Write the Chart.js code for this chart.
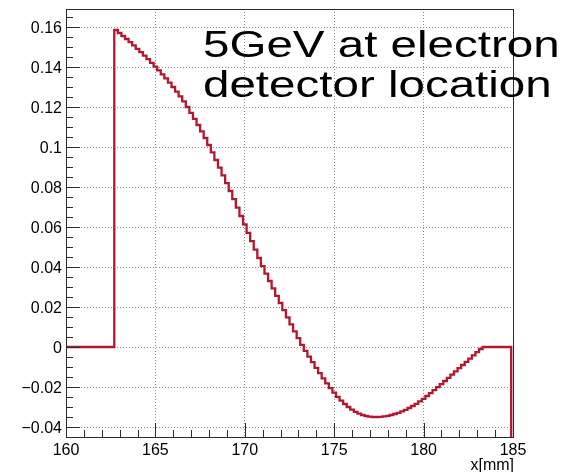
<!DOCTYPE html>
<html>
<head>
<meta charset="utf-8">
<script src="https://cdn.jsdelivr.net/npm/chart.js@4/dist/chart.umd.min.js"></script>
<style>
  html, body { margin: 0; padding: 0; background: #ffffff; }
  #wrap { width: 578px; height: 472px; }
</style>
</head>
<body>
<div id="wrap"><canvas id="c" width="578" height="472"></canvas></div>
<script>
// Histogram binning along x [mm]
const firstBinEdge = 160.1;
const binWidth = 0.2;

// Bin contents, one value per 0.2 mm bin, starting at 160.1 mm
const leadingEmptyBins = [0, 0, 0, 0, 0, 0, 0, 0, 0, 0, 0, 0, 0];
const signalBins = [
  0.1585, 0.1570, 0.1555, 0.1540, 0.1524, 0.1508, 0.1491, 0.1474, 0.1457, 0.1439,
  0.1421, 0.1402, 0.1383, 0.1363, 0.1343, 0.1322, 0.1300, 0.1277, 0.1253, 0.1228,
  0.1200, 0.1171, 0.1141, 0.1110, 0.1078, 0.1045, 0.1010, 0.0973, 0.0935, 0.0897,
  0.0858, 0.0819, 0.0780, 0.0739, 0.0697, 0.0655, 0.0613, 0.0571, 0.0529, 0.0487,
  0.0445, 0.0404, 0.0367, 0.0330, 0.0293, 0.0256, 0.0220, 0.0184, 0.0148, 0.0113,
  0.0078, 0.0044, 0.0011, -0.0019, -0.0048, -0.0076, -0.0104, -0.0131, -0.0157, -0.0182,
  -0.0206, -0.0228, -0.0249, -0.0268, -0.0285, -0.0300, -0.0313, -0.0324, -0.0333, -0.0340,
  -0.0345, -0.0348, -0.0350, -0.0350, -0.0349, -0.0347, -0.0344, -0.0340, -0.0335, -0.0329,
  -0.0322, -0.0314, -0.0305, -0.0295, -0.0284, -0.0272, -0.0259, -0.0245, -0.0231, -0.0216,
  -0.0201, -0.0186, -0.0170, -0.0154, -0.0138, -0.0122, -0.0106, -0.0090, -0.0074, -0.0058,
  -0.0042, -0.0026, -0.0010
];
const trailingEmptyBins = [0, 0, 0, 0, 0, 0, 0, 0];
const lastBin = [-0.06]; // falls below the displayed range

// Axis ticks and labels
const xTickValues = [160, 165, 170, 175, 180, 185];
const xTickLabels = ['160', '165', '170', '175', '180', '185'];
const yTickValues = [0.16, 0.14, 0.12, 0.10, 0.08, 0.06, 0.04, 0.02, 0, -0.02, -0.04];
const yTickLabels = ['0.16', '0.14', '0.12', '0.1', '0.08', '0.06', '0.04', '0.02', '0', '\u22120.02', '\u22120.04'];
const xAxisTitle = 'x[mm]';
const titleLines = ['5GeV at electron', 'detector location'];

// Step outline: each point sits on a bin's low edge and holds that bin's content
const contents = [...leadingEmptyBins, ...signalBins, ...trailingEmptyBins, ...lastBin];
const outline = [{ x: 160, y: 0 }];
contents.forEach((v, i) => outline.push({ x: firstBinEdge + i * binWidth, y: v }));
outline.push({ x: firstBinEdge + contents.length * binWidth, y: contents[contents.length - 1] });

const FONT = '"Liberation Sans", Arial, Helvetica, sans-serif';

const rootFrame = {
  id: 'rootFrame',
  afterDatasetsDraw(chart) {
    const { ctx, chartArea: a, scales: { x, y } } = chart;
    ctx.save();
    // frame
    ctx.strokeStyle = '#2a2a2a';
    ctx.lineWidth = 1;
    ctx.strokeRect(Math.round(a.left) + 0.5, Math.round(a.top) + 0.5,
                   Math.round(a.right - a.left), Math.round(a.bottom - a.top));
    // x ticks: major every 5, minor every 1
    ctx.beginPath();
    for (let v = 160; v <= 185; v += 1) {
      const px = Math.round(x.getPixelForValue(v)) + 0.5;
      const len = (v % 5 === 0) ? 14 : 7;
      ctx.moveTo(px, a.bottom);
      ctx.lineTo(px, a.bottom - len);
    }
    // y ticks: major every 0.02, minor every 0.005
    for (let k = -9; k <= 33; k++) {
      const v = k * 0.005;
      if (v < y.min - 1e-9 || v > y.max + 1e-9) continue;
      const py = Math.round(y.getPixelForValue(v)) + 0.5;
      const len = (k % 4 === 0) ? 14 : 7;
      ctx.moveTo(a.left, py);
      ctx.lineTo(a.left + len, py);
    }
    ctx.stroke();

    // tick labels
    ctx.fillStyle = '#000';
    ctx.font = '16px ' + FONT;
    ctx.textAlign = 'right';
    ctx.textBaseline = 'alphabetic';
    yTickValues.forEach((v, i) => {
      ctx.fillText(yTickLabels[i], a.left - 4, y.getPixelForValue(v) + 6);
    });
    ctx.textAlign = 'center';
    xTickValues.forEach((v, i) => {
      ctx.fillText(xTickLabels[i], x.getPixelForValue(v), a.bottom + 18);
    });
    ctx.textAlign = 'right';
    ctx.fillText(xAxisTitle, a.right + 1, a.bottom + 33);

    // title text, wide Helvetica-like lettering
    ctx.textAlign = 'left';
    ctx.font = '36px ' + FONT;
    const baselines = [57, 97];
    titleLines.forEach((t, i) => {
      ctx.save();
      ctx.translate(203, baselines[i]);
      ctx.scale(1.32, 1);
      ctx.fillText(t, 0, 0);
      ctx.restore();
    });
    ctx.restore();
  }
};

new Chart(document.getElementById('c'), {
  type: 'line',
  data: {
    datasets: [
      {
        data: outline,
        stepped: 'before',
        borderColor: '#b3172f',
        borderWidth: 2.3,
        pointRadius: 0,
        fill: false
      }
    ]
  },
  options: {
    responsive: false,
    devicePixelRatio: 1,
    animation: false,
    events: [],
    layout: { padding: { left: 66, right: 65, top: 9, bottom: 35 } },
    plugins: { legend: { display: false }, tooltip: { enabled: false }, title: { display: false } },
    scales: {
      x: {
        type: 'linear',
        min: 160,
        max: 185,
        afterBuildTicks: s => { s.ticks = xTickValues.map(v => ({ value: v })); },
        ticks: { display: false },
        grid: { color: '#8c8c8c', lineWidth: 1, drawTicks: false },
        border: { display: false, dash: [1, 2] }
      },
      y: {
        type: 'linear',
        min: -0.045,
        max: 0.169,
        afterBuildTicks: s => { s.ticks = yTickValues.map(v => ({ value: v })); },
        ticks: { display: false },
        grid: { color: '#8c8c8c', lineWidth: 1, drawTicks: false },
        border: { display: false, dash: [1, 2] }
      }
    }
  },
  plugins: [rootFrame]
});
</script>
</body>
</html>
